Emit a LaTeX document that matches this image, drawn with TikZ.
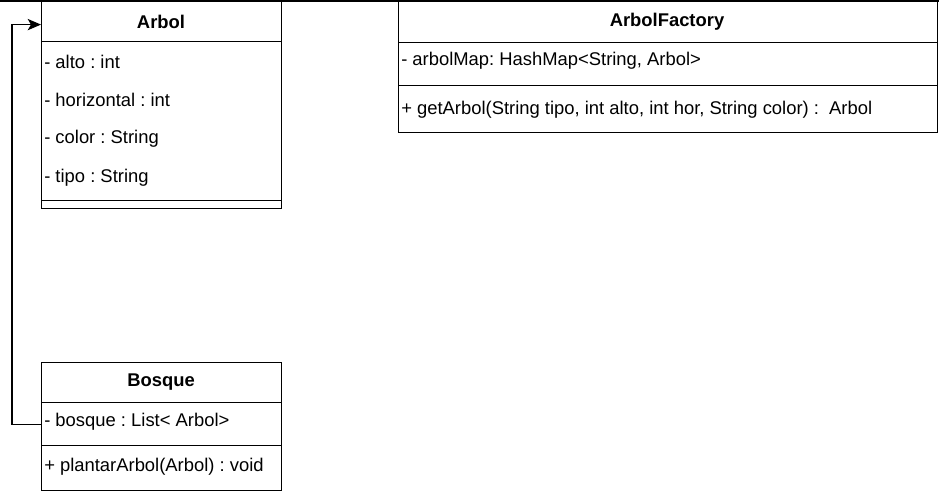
\documentclass[tikz,border=0pt]{standalone}
\usepackage{fontspec}
\setmainfont{Liberation Sans}
\usetikzlibrary{arrows.meta}
\frenchspacing
\begin{document}
\begin{tikzpicture}[x=0.75pt,y=-0.75pt,
  comp/.style n args={2}{draw=black, line width=0.9pt, anchor=north west, inner sep=0pt,
    minimum width=#1*0.75pt, minimum height=#2*0.75pt},
  txt/.style={anchor=west, inner sep=0pt, font=\fontsize{13.8}{16}\selectfont},
  ttl/.style={anchor=center, inner sep=0pt, font=\fontsize{13.8}{16}\selectfont\bfseries},
  conn/.style={draw=black, line width=0.9pt, -{Stealth[length=10pt,width=8.5pt,inset=2.5pt]}}]
\useasboundingbox (0,0) rectangle (939,495);
\fill[black] (0,0) rectangle (939,2.5);

% Arbol
\node[comp={240}{40}] (arbolHead) at (41,1) {};
\node[comp={240}{159}] (arbolAttr) at (41,41) {};
\node[comp={240}{8}] (arbolOps) at (41,200) {};
\node[ttl] (arbolTitle) at (161,22) {Arbol};
\node[txt] (arbolA1) at (44,62) {- alto : int};
\node[txt] (arbolA2) at (44,100) {- horizontal : int};
\node[txt] (arbolA3) at (44,139) {- color : String};
\node[txt] (arbolA4) at (44,178) {- tipo : String};

% ArbolFactory
\node[comp={539}{41}] (facHead) at (398,1) {};
\node[comp={539}{43}] (facAttr) at (398,42) {};
\node[comp={539}{47}] (facOps) at (398,85) {};
\node[ttl] (facTitle) at (667,22) {ArbolFactory};
\node[txt] (facA1) at (401,61) {- arbolMap: HashMap<String, Arbol>};
\node[txt] (facM1) at (401,110) {+ getArbol(String tipo, int alto, int hor, String color) :\ \ Arbol};

% Bosque
\node[comp={240}{40}] (bosqueHead) at (41,362) {};
\node[comp={240}{43}] (bosqueAttr) at (41,402) {};
\node[comp={240}{45}] (bosqueOps) at (41,445) {};
\node[ttl] (bosqueTitle) at (161,382) {Bosque};
\node[txt] (bosqueA1) at (44,422) {- bosque : List< Arbol>};
\node[txt] (bosqueM1) at (44,467) {+ plantarArbol(Arbol) : void};

% connector
\draw[conn] (bosqueAttr.west) -- ++(-29,0) |- ([yshift=-2.25pt]arbolHead.west);
\end{tikzpicture}
\end{document}
